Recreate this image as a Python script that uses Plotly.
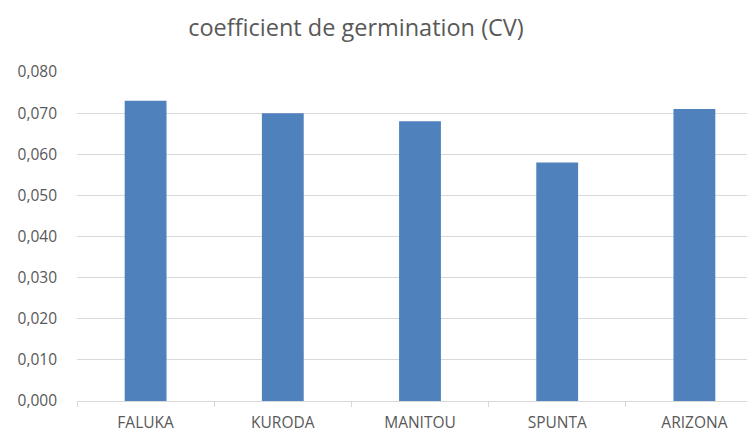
import plotly.graph_objects as go

varieties = ["FALUKA", "KURODA", "MANITOU", "SPUNTA", "ARIZONA"]
cv_values = [0.073, 0.070, 0.068, 0.058, 0.071]
y_ticks = [0.0, 0.01, 0.02, 0.03, 0.04, 0.05, 0.06, 0.07, 0.08]

grid_color = "#d9d9d9"
text_color = "#595959"

bars = go.Bar(x=varieties, y=cv_values, marker=dict(color="#4f81bd", line=dict(width=0)))

# the page body adds an 8px offset, so the margins below are shifted to compensate
fig = go.Figure(data=[bars])
fig.update_layout(
    width=755,
    height=433,
    margin=dict(l=69, r=0, t=64, b=40),
    paper_bgcolor="white",
    plot_bgcolor="white",
    separators=", ",
    bargap=0.695,
    showlegend=False,
    font=dict(family="Open Sans, sans-serif", color=text_color, size=15),
    title=dict(
        text="coefficient de germination (CV)",
        x=348 / 755,
        xanchor="center",
        xref="container",
        y=1 - 20 / 433,
        yanchor="middle",
        font=dict(size=23.5, color=text_color),
    ),
)
fig.update_xaxes(
    range=[-0.5, 4.5],
    automargin=False,
    showgrid=False,
    showline=True,
    linecolor=grid_color,
    linewidth=1,
    ticks="outside",
    tickson="boundaries",
    ticklen=5,
    tickcolor=grid_color,
    ticklabelstandoff=7,
    tickfont=dict(size=15.5, color=text_color),
)
fig.update_yaxes(
    range=[0, 0.08],
    automargin=False,
    tickvals=y_ticks,
    tickformat=".3f",
    showgrid=True,
    gridcolor=grid_color,
    gridwidth=1,
    zeroline=False,
    showline=False,
    ticks="",
    ticklabelstandoff=19,
    tickfont=dict(size=15.5, color=text_color),
)

fig.write_html("out.html")
